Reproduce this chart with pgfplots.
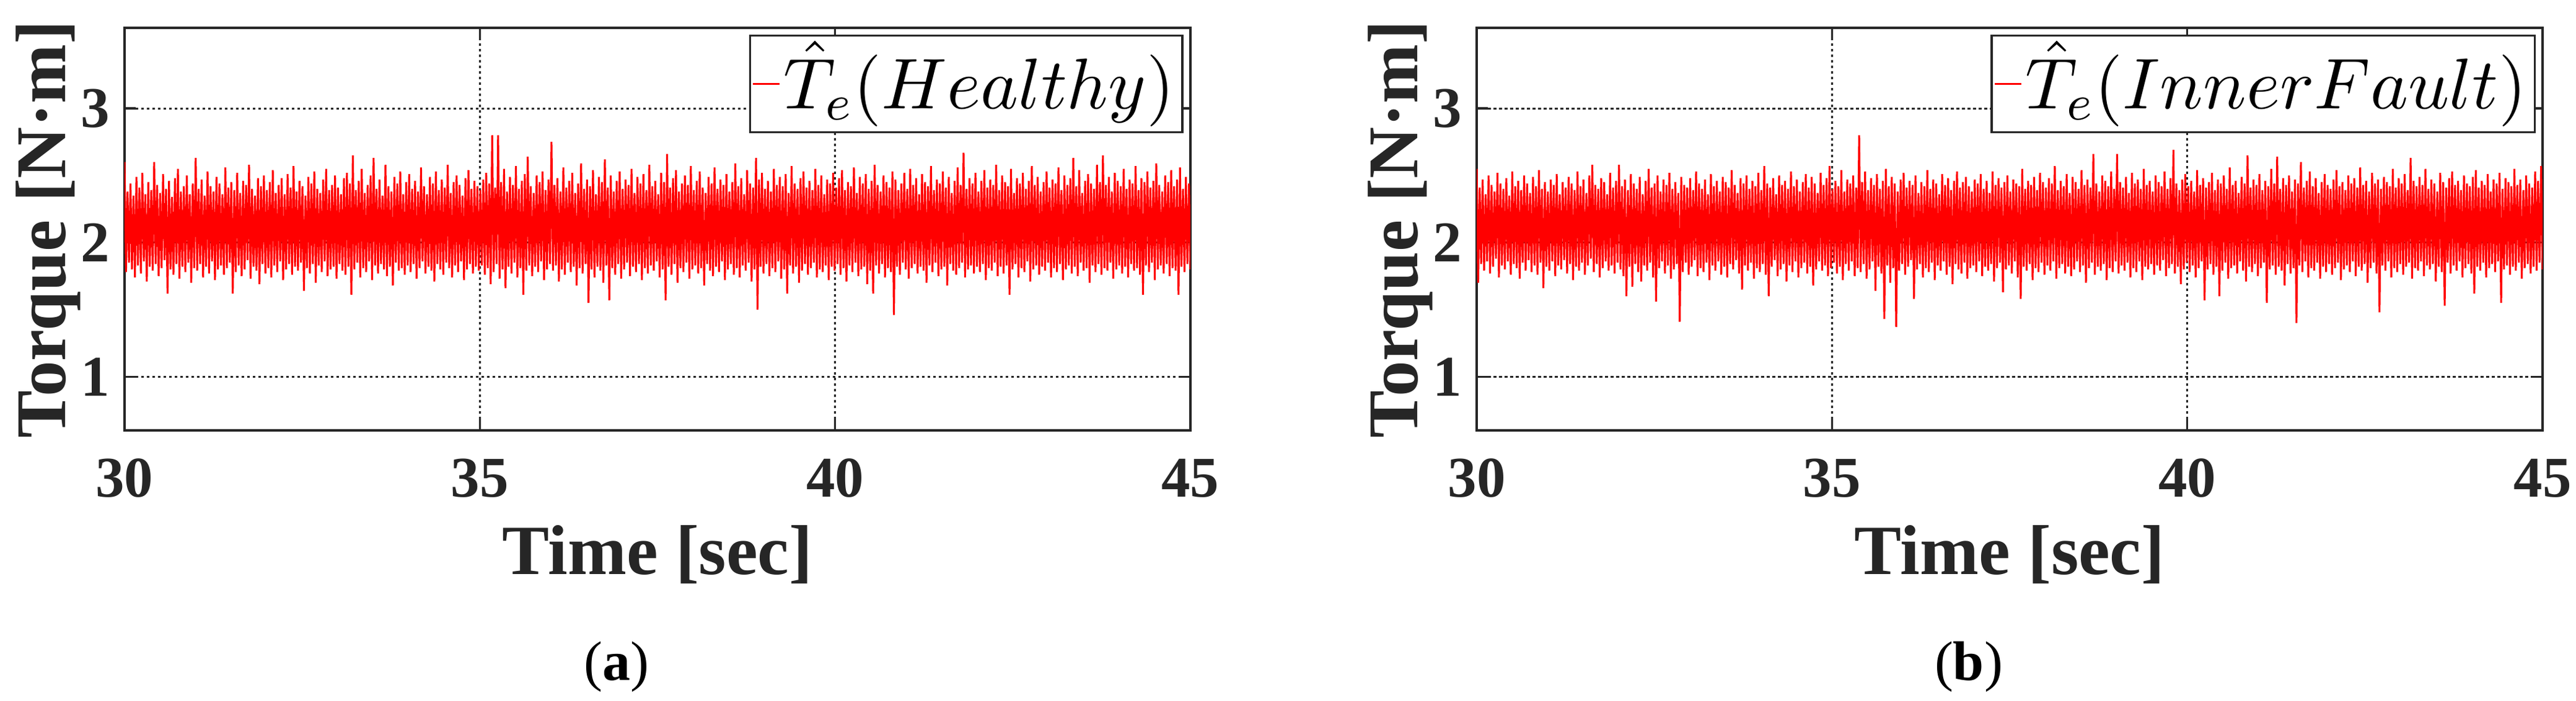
\RequirePackage{fix-cm}
\documentclass[border=0pt]{standalone}
\usepackage{fontspec}
\setmainfont{Liberation Serif}
\usepackage{pgfplots}
\pgfplotsset{compat=1.18}
\usepackage{pgfplotstable}
\definecolor{mlgray}{HTML}{262626}

\pgfplotstableread[row sep=\\]{
y\\
2.60\\1.78\\2.38\\1.85\\2.44\\1.80\\2.35\\1.74\\2.49\\1.83\\2.41\\1.77\\2.52\\1.86\\2.36\\1.71\\2.45\\1.82\\2.39\\1.79\\2.60\\1.84\\2.43\\1.75\\2.37\\1.81\\2.51\\1.87\\2.40\\1.62\\2.46\\1.80\\2.34\\1.76\\2.48\\1.84\\2.55\\1.73\\2.38\\1.82\\2.42\\1.78\\2.50\\1.85\\2.36\\1.70\\2.44\\1.81\\
2.63\\1.79\\2.40\\1.84\\2.47\\1.74\\2.35\\1.82\\2.53\\1.77\\2.42\\1.86\\2.38\\1.72\\2.49\\1.80\\2.44\\1.83\\2.36\\1.76\\2.56\\1.81\\2.41\\1.85\\2.45\\1.62\\2.39\\1.78\\2.52\\1.83\\2.37\\1.75\\2.46\\1.80\\2.43\\1.87\\2.58\\1.73\\2.40\\1.82\\2.35\\1.79\\2.48\\1.69\\2.42\\1.84\\2.50\\1.77\\
2.39\\1.81\\2.45\\1.74\\2.54\\1.83\\2.37\\1.78\\2.43\\1.86\\2.48\\1.72\\2.36\\1.80\\2.51\\1.84\\2.41\\1.76\\2.57\\1.82\\2.38\\1.79\\2.46\\1.85\\2.42\\1.64\\2.35\\1.81\\2.49\\1.77\\2.44\\1.84\\2.53\\1.70\\2.40\\1.83\\2.37\\1.78\\2.47\\1.86\\2.55\\1.75\\2.39\\1.80\\2.43\\1.82\\2.50\\1.73\\
2.41\\1.84\\2.36\\1.79\\2.48\\1.76\\2.52\\1.82\\2.44\\1.61\\2.65\\1.80\\2.39\\1.85\\2.46\\1.74\\2.55\\1.81\\2.37\\1.78\\2.43\\1.86\\2.50\\1.72\\2.63\\1.83\\2.40\\1.77\\2.47\\1.84\\2.35\\1.80\\2.58\\1.75\\2.42\\1.82\\2.38\\1.68\\2.49\\1.85\\2.44\\1.79\\2.53\\1.81\\2.36\\1.76\\2.45\\1.83\\
2.51\\1.78\\2.40\\1.84\\2.46\\1.73\\2.38\\1.81\\2.56\\1.86\\2.42\\1.77\\2.36\\1.82\\2.49\\1.79\\2.44\\1.71\\2.53\\1.84\\2.39\\1.80\\2.47\\1.76\\2.41\\1.85\\2.58\\1.81\\2.37\\1.74\\2.45\\1.83\\2.50\\1.78\\2.43\\1.86\\2.35\\1.72\\2.48\\1.80\\2.54\\1.84\\2.40\\1.77\\2.46\\1.82\\2.42\\1.79\\
2.39\\1.83\\2.47\\1.76\\2.52\\1.81\\2.44\\1.69\\2.80\\1.78\\2.41\\1.84\\2.80\\1.73\\2.45\\1.80\\2.55\\1.66\\2.38\\1.82\\2.49\\1.77\\2.43\\1.85\\2.57\\1.74\\2.40\\1.81\\2.46\\1.61\\2.51\\1.79\\2.64\\1.83\\2.42\\1.75\\2.37\\1.82\\2.50\\1.78\\2.45\\1.86\\2.53\\1.72\\2.39\\1.80\\2.47\\1.84\\
2.75\\1.79\\2.43\\1.83\\2.48\\1.71\\2.38\\1.80\\2.56\\1.76\\2.41\\1.85\\2.46\\1.78\\2.52\\1.82\\2.37\\1.68\\2.44\\1.81\\2.59\\1.77\\2.40\\1.84\\2.47\\1.55\\2.42\\1.80\\2.54\\1.74\\2.36\\1.82\\2.49\\1.79\\2.45\\1.70\\2.62\\1.83\\2.41\\1.57\\2.50\\1.81\\2.38\\1.76\\2.46\\1.84\\2.53\\1.73\\
2.40\\1.80\\2.47\\1.85\\2.43\\1.75\\2.55\\1.82\\2.37\\1.78\\2.49\\1.84\\2.44\\1.72\\2.51\\1.81\\2.39\\1.77\\2.58\\1.83\\2.42\\1.79\\2.46\\1.86\\2.36\\1.74\\2.52\\1.80\\2.45\\1.57\\2.66\\1.82\\2.41\\1.76\\2.48\\1.84\\2.54\\1.70\\2.38\\1.81\\2.44\\1.78\\2.50\\1.85\\2.43\\1.73\\2.57\\1.80\\
2.39\\1.83\\2.46\\1.77\\2.53\\1.81\\2.41\\1.68\\2.37\\1.84\\2.49\\1.79\\2.44\\1.75\\2.56\\1.82\\2.40\\1.78\\2.47\\1.86\\2.43\\1.72\\2.51\\1.80\\2.38\\1.84\\2.45\\1.76\\2.59\\1.81\\2.42\\1.74\\2.48\\1.83\\2.36\\1.79\\2.54\\1.85\\2.44\\1.71\\2.41\\1.80\\2.63\\1.50\\2.47\\1.82\\2.52\\1.77\\
2.40\\1.84\\2.46\\1.75\\2.38\\1.81\\2.55\\1.78\\2.43\\1.86\\2.49\\1.73\\2.42\\1.80\\2.51\\1.62\\2.37\\1.83\\2.57\\1.77\\2.44\\1.82\\2.40\\1.70\\2.48\\1.79\\2.53\\1.84\\2.41\\1.76\\2.46\\1.81\\2.39\\1.85\\2.55\\1.74\\2.43\\1.80\\2.50\\1.78\\2.36\\1.83\\2.47\\1.72\\2.44\\1.82\\2.52\\1.79\\
2.41\\1.84\\2.48\\1.76\\2.54\\1.81\\2.39\\1.71\\2.45\\1.83\\2.42\\1.78\\2.56\\1.85\\2.37\\1.75\\2.49\\1.80\\2.44\\1.82\\2.51\\1.69\\2.40\\1.79\\2.46\\1.62\\2.58\\1.83\\2.43\\1.77\\2.38\\1.84\\2.50\\1.74\\2.45\\1.81\\2.41\\1.78\\2.53\\1.46\\2.47\\1.82\\2.39\\1.76\\2.44\\1.85\\2.52\\1.80\\
2.40\\1.73\\2.55\\1.81\\2.43\\1.84\\2.48\\1.77\\2.36\\1.82\\2.51\\1.79\\2.45\\1.70\\2.42\\1.83\\2.57\\1.78\\2.39\\1.85\\2.47\\1.75\\2.44\\1.80\\2.53\\1.82\\2.41\\1.68\\2.49\\1.84\\2.37\\1.79\\2.46\\1.76\\2.56\\1.81\\2.43\\1.85\\2.67\\1.74\\2.40\\1.80\\2.48\\1.83\\2.44\\1.77\\2.52\\1.82\\
2.38\\1.78\\2.46\\1.84\\2.54\\1.72\\2.41\\1.81\\2.47\\1.79\\2.43\\1.85\\2.58\\1.75\\2.39\\1.82\\2.50\\1.77\\2.45\\1.83\\2.42\\1.61\\2.55\\1.80\\2.37\\1.84\\2.48\\1.74\\2.44\\1.81\\2.52\\1.78\\2.40\\1.86\\2.46\\1.71\\2.57\\1.80\\2.43\\1.83\\2.49\\1.76\\2.38\\1.82\\2.45\\1.79\\2.53\\1.85\\
2.41\\1.74\\2.47\\1.81\\2.44\\1.78\\2.56\\1.84\\2.39\\1.72\\2.50\\1.80\\2.43\\1.83\\2.48\\1.77\\2.63\\1.82\\2.42\\1.75\\2.54\\1.85\\2.37\\1.79\\2.46\\1.81\\2.51\\1.70\\2.44\\1.83\\2.40\\1.78\\2.58\\1.84\\2.45\\1.76\\2.65\\1.81\\2.43\\1.79\\2.49\\1.85\\2.38\\1.73\\2.52\\1.80\\2.46\\1.83\\
2.42\\1.77\\2.55\\1.82\\2.40\\1.74\\2.47\\1.84\\2.44\\1.79\\2.57\\1.81\\2.39\\1.76\\2.48\\1.61\\2.45\\1.83\\2.53\\1.78\\2.41\\1.85\\2.46\\1.72\\2.59\\1.80\\2.43\\1.83\\2.38\\1.77\\2.50\\1.84\\2.45\\1.75\\2.54\\1.81\\2.42\\1.79\\2.47\\1.61\\2.56\\1.82\\2.40\\1.78\\2.49\\1.84\\2.44\\1.80\\
}\tabA

\pgfplotstableread[row sep=\\]{
y\\
2.55\\1.70\\2.41\\1.84\\2.47\\1.79\\2.36\\1.86\\2.50\\1.77\\2.43\\1.82\\2.38\\1.88\\2.52\\1.74\\2.44\\1.83\\2.40\\1.80\\2.48\\1.86\\2.35\\1.76\\2.53\\1.84\\2.42\\1.81\\2.46\\1.73\\2.39\\1.85\\2.50\\1.79\\2.44\\1.87\\2.37\\1.78\\2.49\\1.83\\2.42\\1.76\\2.54\\1.85\\2.40\\1.66\\2.45\\1.82\\
2.38\\1.79\\2.47\\1.86\\2.43\\1.75\\2.51\\1.83\\2.36\\1.80\\2.45\\1.87\\2.41\\1.77\\2.49\\1.84\\2.44\\1.72\\2.39\\1.82\\2.53\\1.79\\2.42\\1.85\\2.47\\1.76\\2.37\\1.83\\2.50\\1.88\\2.58\\1.78\\2.43\\1.84\\2.40\\1.74\\2.48\\1.81\\2.45\\1.86\\2.36\\1.79\\2.52\\1.83\\2.41\\1.77\\2.46\\1.85\\
2.58\\1.80\\2.42\\1.75\\2.47\\1.60\\2.39\\1.82\\2.51\\1.67\\2.44\\1.84\\2.40\\1.78\\2.49\\1.71\\2.36\\1.83\\2.46\\1.79\\2.55\\1.85\\2.41\\1.74\\2.44\\1.56\\2.50\\1.81\\2.38\\1.86\\2.47\\1.77\\2.43\\1.83\\2.52\\1.73\\2.40\\1.80\\2.45\\1.84\\2.37\\1.41\\2.49\\1.78\\2.43\\1.85\\2.41\\1.76\\
2.48\\1.82\\2.39\\1.87\\2.53\\1.75\\2.44\\1.81\\2.40\\1.78\\2.47\\1.85\\2.36\\1.72\\2.51\\1.83\\2.42\\1.79\\2.46\\1.86\\2.38\\1.76\\2.49\\1.82\\2.45\\1.74\\2.41\\1.84\\2.54\\1.80\\2.43\\1.87\\2.37\\1.77\\2.48\\1.65\\2.44\\1.83\\2.50\\1.79\\2.40\\1.85\\2.46\\1.73\\2.42\\1.81\\2.52\\1.78\\
2.39\\1.84\\2.57\\1.76\\2.44\\1.60\\2.41\\1.82\\2.48\\1.87\\2.36\\1.75\\2.50\\1.80\\2.43\\1.84\\2.46\\1.71\\2.40\\1.83\\2.53\\1.78\\2.42\\1.86\\2.47\\1.74\\2.38\\1.81\\2.45\\1.85\\2.51\\1.77\\2.41\\1.82\\2.49\\1.68\\2.44\\1.80\\2.37\\1.86\\2.52\\1.79\\2.43\\1.83\\2.48\\1.75\\2.57\\1.81\\
2.40\\1.85\\2.46\\1.77\\2.42\\1.82\\2.54\\1.72\\2.38\\1.84\\2.47\\1.79\\2.44\\1.86\\2.50\\1.75\\2.41\\1.81\\2.80\\1.78\\2.45\\1.84\\2.53\\1.73\\2.39\\1.80\\2.48\\1.86\\2.43\\1.64\\2.51\\1.82\\2.40\\1.77\\2.46\\1.43\\2.55\\1.83\\2.42\\1.70\\2.49\\1.81\\2.44\\1.37\\2.38\\1.79\\2.47\\1.84\\
2.52\\1.76\\2.41\\1.82\\2.46\\1.87\\2.43\\1.58\\2.50\\1.80\\2.37\\1.84\\2.45\\1.74\\2.42\\1.81\\2.54\\1.78\\2.40\\1.85\\2.47\\1.72\\2.44\\1.83\\2.36\\1.79\\2.51\\1.86\\2.43\\1.76\\2.48\\1.82\\2.39\\1.69\\2.46\\1.84\\2.53\\1.80\\2.41\\1.77\\2.45\\1.85\\2.49\\1.73\\2.42\\1.81\\2.38\\1.83\\
2.47\\1.78\\2.44\\1.86\\2.51\\1.75\\2.40\\1.82\\2.46\\1.79\\2.37\\1.84\\2.53\\1.71\\2.43\\1.81\\2.48\\1.85\\2.41\\1.63\\2.45\\1.80\\2.50\\1.83\\2.38\\1.77\\2.47\\1.86\\2.44\\1.74\\2.42\\1.58\\2.55\\1.82\\2.40\\1.79\\2.46\\1.84\\2.43\\1.72\\2.49\\1.81\\2.39\\1.78\\2.52\\1.85\\2.45\\1.76\\
2.41\\1.83\\2.48\\1.79\\2.44\\1.86\\2.57\\1.73\\2.39\\1.81\\2.46\\1.84\\2.42\\1.77\\2.51\\1.82\\2.37\\1.75\\2.49\\1.80\\2.45\\1.86\\2.40\\1.78\\2.54\\1.83\\2.43\\1.70\\2.47\\1.81\\2.41\\1.85\\2.66\\1.76\\2.44\\1.82\\2.38\\1.79\\2.50\\1.84\\2.46\\1.72\\2.42\\1.81\\2.53\\1.78\\2.40\\1.86\\
2.66\\1.77\\2.45\\1.83\\2.41\\1.79\\2.49\\1.85\\2.37\\1.74\\2.52\\1.81\\2.44\\1.78\\2.47\\1.86\\2.40\\1.72\\2.55\\1.82\\2.43\\1.80\\2.46\\1.84\\2.38\\1.76\\2.50\\1.83\\2.45\\1.79\\2.42\\1.87\\2.53\\1.75\\2.40\\1.81\\2.48\\1.84\\2.69\\1.77\\2.44\\1.82\\2.39\\1.69\\2.47\\1.80\\2.51\\1.85\\
2.42\\1.78\\2.46\\1.83\\2.38\\1.74\\2.54\\1.81\\2.43\\1.86\\2.48\\1.57\\2.41\\1.80\\2.45\\1.84\\2.52\\1.76\\2.39\\1.82\\2.47\\1.60\\2.44\\1.79\\2.50\\1.85\\2.40\\1.73\\2.56\\1.81\\2.43\\1.83\\2.46\\1.77\\2.37\\1.86\\2.49\\1.79\\2.44\\1.71\\2.65\\1.82\\2.41\\1.78\\2.47\\1.84\\2.43\\1.75\\
2.51\\1.81\\2.39\\1.85\\2.46\\1.55\\2.42\\1.80\\2.55\\1.83\\2.44\\1.76\\2.64\\1.82\\2.40\\1.79\\2.48\\1.68\\2.43\\1.84\\2.50\\1.77\\2.38\\1.81\\2.47\\1.40\\2.44\\1.83\\2.60\\1.78\\2.41\\1.86\\2.46\\1.74\\2.53\\1.81\\2.42\\1.79\\2.48\\1.85\\2.37\\1.73\\2.45\\1.82\\2.51\\1.78\\2.43\\1.84\\
2.40\\1.76\\2.47\\1.81\\2.54\\1.85\\2.42\\1.72\\2.45\\1.80\\2.39\\1.83\\2.50\\1.78\\2.44\\1.86\\2.48\\1.75\\2.41\\1.82\\2.56\\1.79\\2.43\\1.84\\2.46\\1.70\\2.38\\1.81\\2.52\\1.85\\2.44\\1.77\\2.47\\1.48\\2.40\\1.83\\2.49\\1.79\\2.45\\1.86\\2.42\\1.74\\2.55\\1.81\\2.41\\1.78\\2.48\\1.84\\
2.44\\1.76\\2.51\\1.82\\2.39\\1.85\\2.63\\1.73\\2.46\\1.81\\2.42\\1.79\\2.49\\1.86\\2.43\\1.75\\2.55\\1.83\\2.40\\1.80\\2.47\\1.84\\2.44\\1.71\\2.38\\1.82\\2.52\\1.78\\2.45\\1.53\\2.41\\1.85\\2.48\\1.77\\2.53\\1.83\\2.43\\1.79\\2.46\\1.86\\2.39\\1.74\\2.50\\1.81\\2.44\\1.84\\2.42\\1.77\\
2.49\\1.62\\2.54\\1.82\\2.41\\1.79\\2.46\\1.85\\2.43\\1.74\\2.51\\1.81\\2.38\\1.84\\2.47\\1.78\\2.44\\1.86\\2.52\\1.55\\2.40\\1.80\\2.48\\1.83\\2.45\\1.76\\2.42\\1.82\\2.55\\1.79\\2.43\\1.85\\2.47\\1.73\\2.39\\1.81\\2.50\\1.84\\2.44\\1.77\\2.41\\1.82\\2.53\\1.79\\2.46\\1.85\\2.57\\1.80\\
}\tabB

\pgfplotsset{
  torq/.style={
    scale only axis, width=172pt, height=65pt,
    xmin=30, xmax=45, ymin=0.6, ymax=3.6,
    xtick={30,35,40,45}, ytick={1,2,3},
    xmajorgrids, ymajorgrids,
    major grid style={mlgray, line width=0.3pt, dash pattern=on 0.45pt off 0.45pt},
    axis line style={mlgray, line width=0.35pt},
    tick style={mlgray, line width=0.35pt},
    tick align=inside, major tick length=1.8pt,
    /pgf/number format/assume math mode=true,
    ticklabel style={font=\fontsize{9.3}{10}\selectfont\bfseries, text=mlgray, inner sep=0pt},
    xticklabel style={anchor=north, yshift=-4.4pt},
    yticklabel style={anchor=east, xshift=-2.2pt},
    xlabel={Time [sec]}, ylabel={Torque [N·m]},
    every axis x label/.style={at={(axis description cs:0.5,-0.357)}, anchor=base,
      font=\fontsize{11.4}{13}\selectfont\bfseries, text=mlgray},
    every axis y label/.style={at={(axis description cs:-0.0558,0.5)}, rotate=90, anchor=base,
      font=\fontsize{11.5}{13}\selectfont\bfseries, text=mlgray},
    legend style={at={(axis description cs:1,1)}, anchor=north east, xshift=-1.1pt, yshift=-1.07pt,
      draw=mlgray, line width=0.35pt, fill=white,
      font=\fontsize{11.6}{13}\selectfont, inner xsep=0pt, inner ysep=0.85pt,
      nodes={inner sep=0pt, text depth=}, cells={anchor=west}},
    legend image code/.code={\path[draw=none] (0pt,0pt) -- (5.4pt,0pt);
      \draw[red, line width=0.3pt] (0.5pt,0pt) -- (4.8pt,0pt);},
  }
}

\begin{document}
\begin{tikzpicture}
\path[use as bounding box] (0,0) rectangle (415.7pt,113.1pt);
\begin{axis}[torq, at={(20.1pt,43.6pt)}, anchor=south west]
\addplot[red, line width=0.3pt, no markers] table[x expr={30+\coordindex*15/719}, y=y] {\tabA};
\addlegendentry{$\hat{T}_e(Healthy)$\hspace*{1.3pt}}
\end{axis}
\begin{axis}[torq, at={(238.3pt,43.6pt)}, anchor=south west]
\addplot[red, line width=0.3pt, no markers] table[x expr={30+\coordindex*15/719}, y=y] {\tabB};
\addlegendentry{$\hat{T}_e(InnerFault)$\hspace*{1.3pt}}
\end{axis}
\node[anchor=base, font=\fontsize{9}{10}\selectfont] at (99.5pt,3.3pt) {(\textbf{a})};
\node[anchor=base, font=\fontsize{9}{10}\selectfont] at (317.7pt,3.3pt) {(\textbf{b})};
\end{tikzpicture}
\end{document}
